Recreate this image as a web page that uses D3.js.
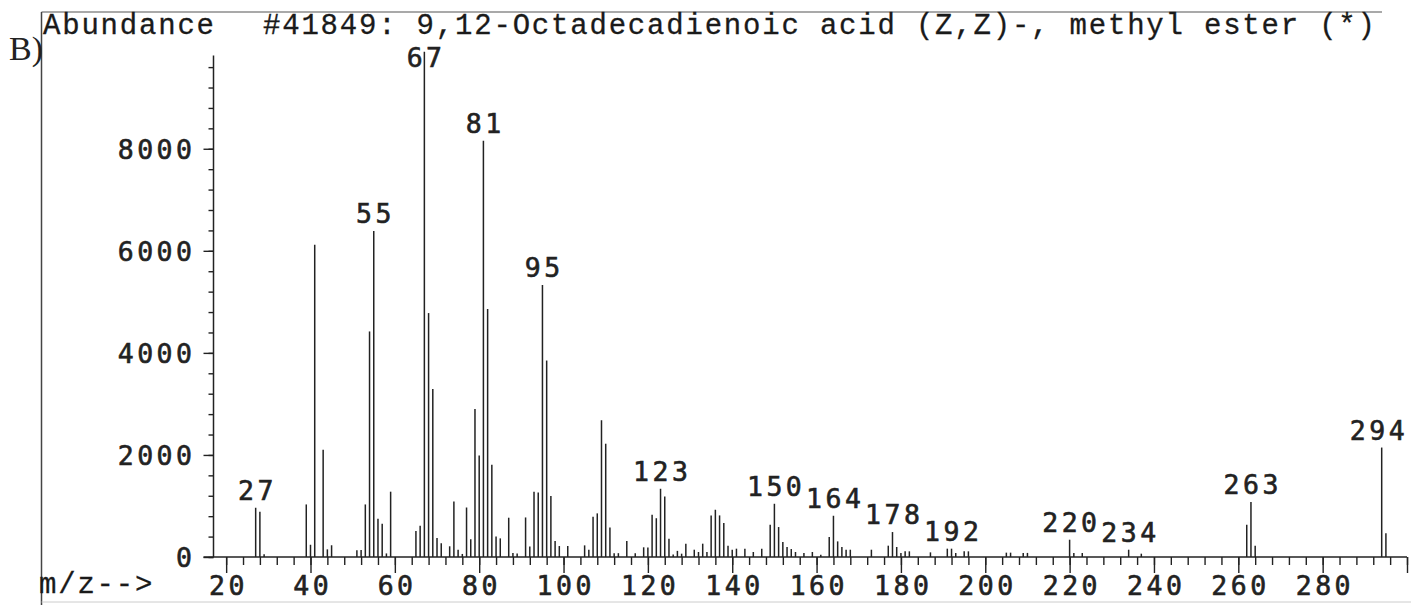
<!DOCTYPE html>
<html>
<head>
<meta charset="utf-8">
<script src="https://cdn.jsdelivr.net/npm/d3@7"></script>
<style>
  body { margin: 0; background: #fff; }
  svg { display: block; background: #fff; }
  .num { font-family: "DejaVu Sans Mono", monospace; font-size: 26.5px; letter-spacing: 3.5px;
         fill: #222; stroke: #222; stroke-width: 0.6px; }
  .mono { font-family: "Liberation Mono", "Courier New", monospace; font-size: 29px; letter-spacing: 1.8px;
          fill: #1a1a1a; stroke: #1a1a1a; stroke-width: 0.3px; }
</style>
</head>
<body>
<script>
// Datos del espectro (m/z y abundancia)
var mz = [27, 28, 29, 39, 40, 41, 43, 44, 45, 51, 52, 53, 54, 55, 56, 57, 58, 59,
  65, 66, 67, 68, 69, 70, 71, 73, 74, 75, 76, 77, 78, 79, 80, 81, 82, 83, 84, 85,
  87, 88, 89, 91, 92, 93, 94, 95, 96, 97, 98, 99, 101, 105, 106, 107, 108, 109, 110,
  111, 112, 113, 115, 117, 119, 120, 121, 122, 123, 124, 125, 126, 127, 128, 129,
  131, 132, 133, 134, 135, 136, 137, 138, 139, 140, 141, 143, 145, 147, 149, 150,
  151, 152, 153, 154, 155, 157, 159, 161, 163, 164, 165, 166, 167, 168, 173, 177,
  178, 179, 180, 181, 182, 187, 191, 192, 193, 195, 196, 205, 206, 209, 210, 220,
  221, 223, 234, 237, 262, 263, 264, 294, 295];

var abundancia = [965, 885, 55, 1030, 240, 6120, 2100, 150, 230, 130, 135, 1030, 4420, 6390, 750, 650, 70, 1280,
  510, 610, 9900, 4780, 3290, 370, 270, 210, 1090, 140, 60, 970, 350, 2900, 1990, 8155, 4860, 1810, 400, 365,
  770, 80, 70, 775, 205, 1280, 1265, 5330, 3850, 1195, 315, 215, 215, 228, 143, 790, 855, 2680, 2220,
  580, 75, 75, 315, 75, 190, 185, 828, 760, 1337, 1187, 359, 50, 120, 65, 261,
  143, 98, 261, 98, 815, 926, 815, 665, 222, 143, 163, 163, 98, 163, 632, 1043,
  587, 293, 196, 156, 98, 78, 98, 46, 391, 808, 306, 196, 143, 143, 143, 222,
  489, 196, 78, 111, 111, 91, 163, 163, 78, 111, 111, 85, 85, 80, 80, 339,
  78, 78, 143, 65, 632, 1076, 222, 2145, 463];

// Picos etiquetados
var etiquetas = [27, 55, 67, 81, 95, 123, 150, 164, 178, 192, 220, 234, 263, 294];

// Marcas de los ejes
var ticksX = [20, 40, 60, 80, 100, 120, 140, 160, 180, 200, 220, 240, 260, 280, 300];
var ticksY = [0, 2000, 4000, 6000, 8000];

var titulo = "#41849: 9,12-Octadecadienoic acid (Z,Z)-, methyl ester (*)";

var datos = mz.map(function(m, i) { return {mz: m, valor: abundancia[i]}; });

var svg = d3.select("body")
            .append("svg")
            .attr("width", 1411)
            .attr("height", 605);

// Marco
svg.append("line").attr("x1", 41.5).attr("x2", 1382).attr("y1", 12).attr("y2", 12)
   .attr("stroke", "#555").attr("stroke-width", 1.2);
svg.append("line").attr("x1", 41.5).attr("x2", 41.5).attr("y1", 12).attr("y2", 605)
   .attr("stroke", "#444").attr("stroke-width", 1.5);
svg.append("line").attr("x1", 41.5).attr("x2", 1411).attr("y1", 602).attr("y2", 602)
   .attr("stroke", "#ccc").attr("stroke-width", 1);

// Escalas
var x = d3.scaleLinear().domain([17, 300]).range([213.5, 1407]);
var y = d3.scaleLinear().domain([0, 10000]).range([557, 46.7]);

// Eje Y: marcas menores y mayores
var menoresY = d3.range(0, 9800, 400);
svg.append("g")
   .attr("transform", "translate(213.5,0)")
   .call(d3.axisLeft(y).tickValues(menoresY).tickSize(5).tickSizeOuter(0).tickFormat(""))
   .call(function(g) { g.select(".domain").remove(); });

var ejeY = svg.append("g")
   .attr("transform", "translate(213.5,0)")
   .call(d3.axisLeft(y).tickValues(ticksY).tickSize(10).tickPadding(8).tickFormat(d3.format("d")));
ejeY.select(".domain").remove();
ejeY.selectAll("text").attr("class", "num").attr("font-family", null).attr("font-size", null)
    .attr("fill", null).attr("dy", "0.36em");

svg.append("line")
   .attr("x1", 213.5).attr("x2", 213.5)
   .attr("y1", y(0)).attr("y2", y(9830))
   .attr("stroke", "#222").attr("stroke-width", 1.5);

// Eje X: marcas menores y mayores
var menoresX = d3.range(20, 301, 4);
svg.append("g")
   .attr("transform", "translate(0," + y(0) + ")")
   .call(d3.axisBottom(x).tickValues(menoresX).tickSize(8).tickSizeOuter(0).tickFormat(""))
   .call(function(g) { g.select(".domain").remove(); });

var ejeX = svg.append("g")
   .attr("transform", "translate(0," + y(0) + ")")
   .call(d3.axisBottom(x).tickValues(ticksX).tickSize(16).tickPadding(3)
           .tickFormat(function(d) { return d < 300 ? d : ""; }));
ejeX.select(".domain").remove();
ejeX.selectAll("text").attr("class", "num").attr("font-family", null).attr("font-size", null)
    .attr("fill", null).attr("dx", 1.75);

svg.append("line")
   .attr("x1", 203.5).attr("x2", 1407)
   .attr("y1", y(0)).attr("y2", y(0))
   .attr("stroke", "#222").attr("stroke-width", 1.5);

svg.selectAll(".tick line").attr("stroke", "#222").attr("stroke-width", 1.4);

// Barras del espectro
svg.append("g")
   .selectAll("line")
   .data(datos)
   .enter()
   .append("line")
   .attr("x1", function(d) { return x(d.mz); })
   .attr("x2", function(d) { return x(d.mz); })
   .attr("y1", y(0))
   .attr("y2", function(d) { return y(d.valor); })
   .attr("stroke", "#222")
   .attr("stroke-width", 1.5);

// Etiquetas de los picos
svg.append("g")
   .selectAll("text")
   .data(datos.filter(function(d) { return etiquetas.indexOf(d.mz) >= 0; }))
   .enter()
   .append("text")
   .attr("class", "num")
   .attr("text-anchor", "middle")
   .attr("x", function(d) { return Math.min(x(d.mz) + 1.75, 1379); })
   .attr("y", function(d) { return Math.max(y(d.valor) - 8, 67); })
   .text(function(d) { return d.mz; });

// Textos
svg.append("text").attr("class", "mono").attr("x", 43).attr("y", 34).text("Abundance");
svg.append("text").attr("class", "mono").attr("x", 263).attr("y", 34).text(titulo);
svg.append("text").attr("class", "mono").attr("x", 39).attr("y", 593).text("m/z-->");
svg.append("text")
   .attr("x", 9).attr("y", 60)
   .attr("font-family", "Liberation Serif, Times New Roman, serif")
   .attr("font-size", 34)
   .attr("fill", "#222")
   .text("B)");
</script>
</body>
</html>
